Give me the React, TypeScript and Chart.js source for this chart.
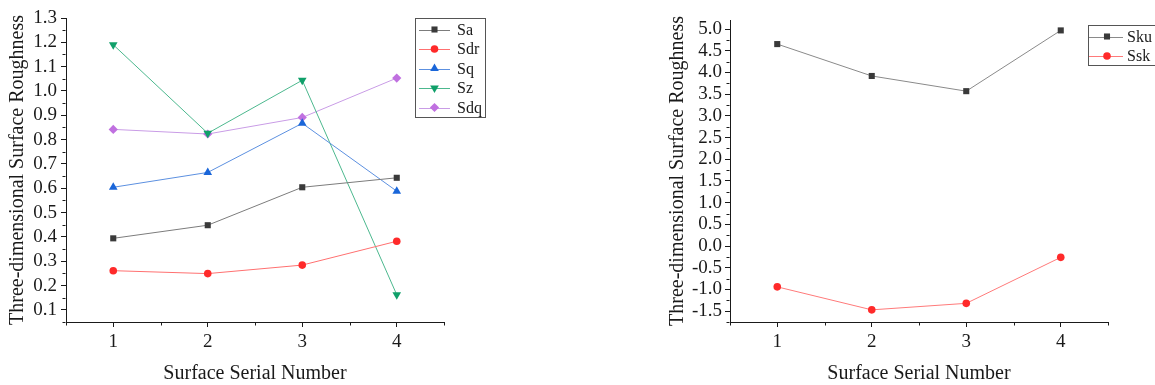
import React, { useEffect, useRef } from 'react';
import { Chart, registerables } from 'chart.js';
import { drawPoint } from 'chart.js/helpers';

Chart.register(...registerables);

// ---------- data ----------
const serialNumbers = [1, 2, 3, 4];

const saValues = [0.394, 0.448, 0.604, 0.643];
const sdrValues = [0.261, 0.249, 0.284, 0.382];
const sqValues = [0.604, 0.665, 0.867, 0.588];
const szValues = [1.19, 0.826, 1.044, 0.162];
const sdqValues = [0.842, 0.823, 0.891, 1.053];

const skuValues = [4.655, 3.92, 3.57, 4.97];
const sskValues = [-0.94, -1.47, -1.32, -0.26];

const xTickValues = [1, 2, 3, 4];
const leftYTickValues = [0.1, 0.2, 0.3, 0.4, 0.5, 0.6, 0.7, 0.8, 0.9, 1.0, 1.1, 1.2, 1.3];
const rightYTickValues = [-1.5, -1.0, -0.5, 0.0, 0.5, 1.0, 1.5, 2.0, 2.5, 3.0, 3.5, 4.0, 4.5, 5.0];

const xTitle = 'Surface Serial Number';
const yTitle = 'Three-dimensional Surface Roughness';

// ---------- styles ----------
const FONT = "'Liberation Serif', 'Times New Roman', serif";
const INK = '#1a1a1a';

const toPoints = (ys: number[]) => serialNumbers.map((x, i) => ({ x, y: ys[i] }));

function series(label: string, values: number[], pointColor: string, lineColor: string, pointStyle: string, radius: number, rotation = 0) {
  return {
    label,
    data: toPoints(values),
    borderColor: lineColor,
    backgroundColor: pointColor,
    pointBackgroundColor: pointColor,
    pointBorderColor: pointColor,
    pointBorderWidth: 0,
    pointStyle,
    pointRadius: radius,
    pointRotation: rotation,
    borderWidth: 1,
    tension: 0,
    fill: false,
  };
}

// minor ticks between major ticks, drawn through the chart's own scales
const minorTicksPlugin = {
  id: 'minorTicks',
  afterDraw(chart: any) {
    const ctx = chart.ctx;
    const area = chart.chartArea;
    ctx.save();
    ctx.strokeStyle = INK;
    ctx.lineWidth = 1;
    ['x', 'y'].forEach((id) => {
      const s = chart.scales[id];
      const vals = s.ticks.map((t: any) => t.value);
      if (vals.length < 2) return;
      const step = vals[1] - vals[0];
      const mids: number[] = [];
      for (let i = -1; i < vals.length; i++) {
        const m = vals[0] + step * (i + 0.5);
        if (m >= s.min - 1e-9 && m <= s.max + 1e-9) mids.push(m);
      }
      mids.forEach((m) => {
        const p = Math.round(s.getPixelForValue(m)) + 0.5;
        ctx.beginPath();
        if (id === 'x') {
          const y0 = Math.round(area.bottom) + 0.5;
          ctx.moveTo(p, y0);
          ctx.lineTo(p, y0 + 3);
        } else {
          const x0 = Math.round(area.left) - 0.5;
          ctx.moveTo(x0, p);
          ctx.lineTo(x0 - 3, p);
        }
        ctx.stroke();
      });
    });
    ctx.restore();
  },
};

// boxed legend in the Origin style
const boxLegendPlugin = {
  id: 'boxLegend',
  afterDraw(chart: any, _args: any, opts: any) {
    const ctx = chart.ctx;
    const { left, top, width, height, rowTop, rowStep, lineStart, lineEnd, markerX, textX } = opts;
    ctx.save();
    ctx.fillStyle = '#ffffff';
    ctx.fillRect(left, top, width, height);
    ctx.strokeStyle = '#555555';
    ctx.lineWidth = 1;
    ctx.strokeRect(left + 0.5, top + 0.5, width, height);
    chart.data.datasets.forEach((ds: any, i: number) => {
      const y = rowTop + i * rowStep;
      ctx.strokeStyle = ds.borderColor;
      ctx.lineWidth = 1;
      ctx.beginPath();
      ctx.moveTo(lineStart, Math.round(y) + 0.5);
      ctx.lineTo(lineEnd, Math.round(y) + 0.5);
      ctx.stroke();
      ctx.fillStyle = ds.pointBackgroundColor;
      ctx.strokeStyle = ds.pointBorderColor;
      drawPoint(ctx, { pointStyle: ds.pointStyle, rotation: ds.pointRotation, radius: ds.pointRadius, borderWidth: 0 }, markerX, y);
      ctx.fillStyle = INK;
      ctx.font = `16px ${FONT}`;
      ctx.textAlign = 'left';
      ctx.textBaseline = 'middle';
      ctx.fillText(ds.label, textX, y + 1);
    });
    ctx.restore();
  },
};

function makeOptions(yMin: number, yMax: number, yTicks: number[], yWidth: number, pad: any, yLabelPad: number, legend: any) {
  const tickFont = { family: FONT, size: 19 };
  const titleFont = { family: FONT, size: 20, lineHeight: 1 };
  return {
    responsive: false,
    animation: false,
    devicePixelRatio: 1,
    layout: { padding: pad },
    plugins: {
      legend: { display: false },
      tooltip: { enabled: false },
      boxLegend: legend,
    },
    scales: {
      x: {
        type: 'linear',
        min: 0.5,
        max: 4.5,
        afterBuildTicks: (s: any) => {
          s.ticks = xTickValues.map((v) => ({ value: v }));
        },
        afterFit: (s: any) => {
          s.height = 63;
        },
        ticks: { font: tickFont, color: INK, padding: 4, autoSkip: false, maxRotation: 0, callback: (v: any) => String(v) },
        grid: { drawOnChartArea: false, drawTicks: true, tickLength: 5, tickColor: INK, tickWidth: 1 },
        border: { display: true, color: INK, width: 1 },
        title: { display: true, text: xTitle, font: titleFont, color: INK, padding: { top: 0, bottom: 1 } },
      },
      y: {
        type: 'linear',
        min: yMin,
        max: yMax,
        afterBuildTicks: (s: any) => {
          s.ticks = yTicks.map((v) => ({ value: v }));
        },
        afterFit: (s: any) => {
          s.width = yWidth;
        },
        ticks: { font: tickFont, color: INK, padding: yLabelPad, autoSkip: false, callback: (v: any) => Number(v).toFixed(1) },
        grid: { drawOnChartArea: false, drawTicks: true, tickLength: 5, tickColor: INK, tickWidth: 1 },
        border: { display: true, color: INK, width: 1 },
        title: { display: true, text: yTitle, font: titleFont, color: INK, padding: { top: 8, bottom: 0 } },
      },
    },
  };
}

function ChartCanvas({ config, left, width }: { config: any; left: number; width: number }) {
  const ref = useRef<HTMLCanvasElement>(null);
  useEffect(() => {
    const chart = new Chart(ref.current as HTMLCanvasElement, config);
    return () => chart.destroy();
  }, []);
  return (
    <canvas
      ref={ref}
      width={width}
      height={385}
      style={{ position: 'absolute', left, top: 0, width, height: 385 }}
    />
  );
}

export default function App() {
  const leftConfig = {
    type: 'line',
    data: {
      datasets: [
        series('Sa', saValues, '#3a3a3a', '#7c7c7c', 'rect', 4.3),
        series('Sdr', sdrValues, '#ff2a2a', '#ff7070', 'circle', 3.8),
        series('Sq', sqValues, '#1a66d9', '#5c90e0', 'triangle', 5),
        series('Sz', szValues, '#10a06a', '#4cb88e', 'triangle', 5, 180),
        series('Sdq', sdqValues, '#c070e0', '#c99ce6', 'rectRot', 4.6),
      ],
    },
    options: makeOptions(0.05, 1.3, leftYTickValues, 66, { left: 0, top: 18, right: 116, bottom: 0 }, 4, {
      left: 415, top: 18, width: 70, height: 99,
      rowTop: 29.5, rowStep: 19.5, lineStart: 419, lineEnd: 450, markerX: 434.5, textX: 457,
    }),
    plugins: [minorTicksPlugin, boxLegendPlugin],
  };

  const rightConfig = {
    type: 'line',
    data: {
      datasets: [
        series('Sku', skuValues, '#3a3a3a', '#8a8a8a', 'rect', 4.3),
        series('Ssk', sskValues, '#ff2a2a', '#ff7a7a', 'circle', 3.8),
      ],
    },
    options: makeOptions(-1.75, 5.21, rightYTickValues, 70, { left: 0, top: 20, right: 47, bottom: 0 }, 3, {
      left: 428, top: 25, width: 80, height: 40,
      rowTop: 36.5, rowStep: 19.5, lineStart: 429, lineEnd: 463, markerX: 447, textX: 467,
    }),
    plugins: [minorTicksPlugin, boxLegendPlugin],
  };

  return (
    <div style={{ position: 'fixed', left: 0, top: 0, width: 1155, height: 385, background: '#ffffff', overflow: 'hidden' }}>
      <ChartCanvas config={leftConfig} left={0} width={560} />
      <ChartCanvas config={rightConfig} left={660} width={495} />
    </div>
  );
}
